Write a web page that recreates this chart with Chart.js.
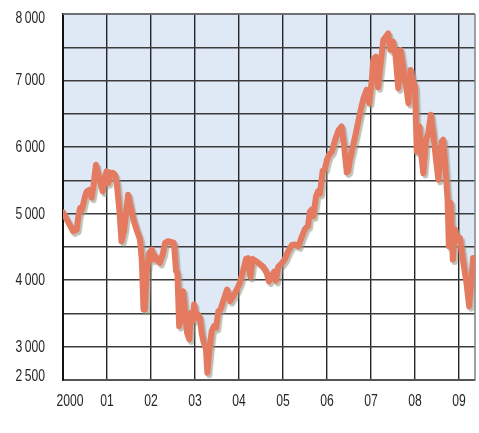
<!DOCTYPE html>
<html>
<head>
<meta charset="utf-8">
<style>
  html, body { margin: 0; padding: 0; background: #ffffff; }
  #wrap { width: 479px; height: 433px; }
</style>
<script src="https://cdn.jsdelivr.net/npm/chart.js@4.4.1/dist/chart.umd.min.js"></script>
</head>
<body>
<div id="wrap"><canvas id="chart" width="479" height="433"></canvas></div>
<script>
// Index level, 2000 to spring 2009 (time in decimal years)
const years = [
  2000.00, 2000.23, 2000.31, 2000.35, 2000.39, 2000.43, 2000.50, 2000.54, 2000.61, 2000.65,
  2000.69, 2000.75, 2000.83, 2000.90, 2000.95, 2000.99, 2001.03, 2001.07, 2001.11, 2001.14,
  2001.18, 2001.22, 2001.28, 2001.33, 2001.39, 2001.45, 2001.48, 2001.54, 2001.60, 2001.67,
  2001.75, 2001.79, 2001.83, 2001.86, 2001.90, 2001.96, 2002.02, 2002.05, 2002.09, 2002.15,
  2002.20, 2002.27, 2002.32, 2002.39, 2002.47, 2002.52, 2002.57, 2002.60, 2002.64, 2002.70,
  2002.73, 2002.77, 2002.82, 2002.87, 2002.91, 2002.95, 2002.98, 2003.02, 2003.07, 2003.11,
  2003.15, 2003.20, 2003.25, 2003.28, 2003.33, 2003.38, 2003.43, 2003.48, 2003.53, 2003.58,
  2003.64, 2003.73, 2003.80, 2003.87, 2003.95, 2004.02, 2004.10, 2004.16, 2004.20, 2004.26,
  2004.31, 2004.40, 2004.48, 2004.55, 2004.63, 2004.68, 2004.74, 2004.80, 2004.84, 2004.89,
  2004.97, 2005.05, 2005.12, 2005.20, 2005.27, 2005.35, 2005.42, 2005.50, 2005.57, 2005.61,
  2005.65, 2005.69, 2005.75, 2005.80, 2005.84, 2005.90, 2005.95, 2006.00, 2006.05, 2006.11,
  2006.18, 2006.26, 2006.33, 2006.39, 2006.45, 2006.48, 2006.52, 2006.64, 2006.75, 2006.83,
  2006.90, 2006.96, 2007.02, 2007.05, 2007.11, 2007.16, 2007.22, 2007.28, 2007.34, 2007.39,
  2007.44, 2007.50, 2007.56, 2007.62, 2007.67, 2007.73, 2007.77, 2007.81, 2007.85, 2007.90,
  2007.95, 2008.00, 2008.04, 2008.10, 2008.14, 2008.19, 2008.25, 2008.30, 2008.36, 2008.42,
  2008.48, 2008.53, 2008.61, 2008.64, 2008.68, 2008.74, 2008.77, 2008.81, 2008.86, 2008.91,
  2008.96, 2009.02, 2009.10, 2009.17, 2009.23, 2009.27, 2009.32, 2009.35
];
const values = [
  5020, 4735, 4760, 4960, 5085, 5060, 5260, 5335, 5360, 5240,
  5410, 5735, 5510, 5335, 5535, 5635, 5460, 5620, 5585, 5610,
  5585, 5460, 5060, 4585, 4760, 5110, 5285, 5085, 4910, 4760,
  4610, 4310, 3560, 3560, 4110, 4410, 4460, 4310, 4370, 4300,
  4260, 4400, 4560, 4585, 4570, 4560, 4135, 4110, 3310, 3460,
  3835, 3560, 3210, 3110, 3510, 3385, 3635, 3435, 3485, 3435,
  3210, 3060, 2960, 2610, 2960, 3235, 3310, 3285, 3535, 3560,
  3685, 3860, 3685, 3760, 3860, 3960, 4160, 4320, 4330, 4050,
  4320, 4280, 4240, 4200, 4110, 3980, 4050, 4130, 3990, 4200,
  4250, 4330, 4440, 4530, 4535, 4510, 4640, 4770, 4820, 5030,
  5060, 4960, 5260, 5340, 5300, 5640, 5670, 5810, 5890, 5930,
  6100, 6250, 6310, 6000, 5620, 5640, 5810, 6160, 6510, 6735,
  6860, 6660, 7010, 7310, 7360, 6900, 7260, 7610, 7660, 7710,
  7460, 7585, 7360, 6885, 7460, 7200, 7000, 6860, 6660, 7160,
  7000, 6900, 5935, 6310, 5900, 5610, 6110, 6200, 6485, 6160,
  5800, 5510, 6085, 6110, 5800, 5210, 4510, 5160, 4310, 4760,
  4610, 4635, 4260, 3960, 3610, 3900, 4335, 4335
];

// Axis ticks and their printed labels
const yTickValues = [2500, 3000, 4000, 5000, 6000, 7000, 8000];
const yTickLabels = ['2\u2009500', '3\u2009000', '4\u2009000', '5\u2009000', '6\u2009000', '7\u2009000', '8\u2009000'];
const xTickValues = [2000, 2001, 2002, 2003, 2004, 2005, 2006, 2007, 2008, 2009];
const xTickLabels = ['2000', '01', '02', '03', '04', '05', '06', '07', '08', '09'];

const points = years.map((x, i) => ({ x: x, y: values[i] }));

const LABEL_FONT = '16px "Liberation Sans", Arial, sans-serif';
const LABEL_COLOR = '#262626';
const LABEL_SQUEEZE = 0.76;   // condensed look for the axis figures

// Soft grey drop shadow under the index line
const lineShadow = {
  id: 'lineShadow',
  beforeDatasetDraw(chart) {
    const ctx = chart.ctx;
    ctx.save();
    ctx.shadowColor = 'rgba(150,150,135,0.6)';
    ctx.shadowOffsetX = 2;
    ctx.shadowOffsetY = 2.5;
    ctx.shadowBlur = 1;
  },
  afterDatasetDraw(chart) {
    chart.ctx.restore();
  }
};

// Top and right edges of the plot frame
const plotFrame = {
  id: 'plotFrame',
  beforeDatasetsDraw(chart) {
    const { ctx, chartArea: a } = chart;
    ctx.save();
    ctx.strokeStyle = '#707070';
    ctx.lineWidth = 2;
    ctx.beginPath();
    ctx.moveTo(a.left, a.top);
    ctx.lineTo(a.right, a.top);
    ctx.stroke();
    ctx.lineWidth = 1.5;
    ctx.strokeStyle = '#808080';
    ctx.beginPath();
    ctx.moveTo(a.right, a.top);
    ctx.lineTo(a.right, a.bottom);
    ctx.stroke();
    ctx.restore();
  }
};

function drawSqueezed(ctx, text, x, y) {
  ctx.save();
  ctx.translate(x, y);
  ctx.scale(LABEL_SQUEEZE, 1);
  ctx.fillText(text, 0, 0);
  ctx.restore();
}

// Tick labels, placed through the chart's own scales
const tickLabels = {
  id: 'tickLabels',
  afterDraw(chart) {
    const { ctx, chartArea: a } = chart;
    const xs = chart.scales.x, ys = chart.scales.y;
    ctx.save();
    ctx.font = LABEL_FONT;
    ctx.fillStyle = LABEL_COLOR;
    ctx.textBaseline = 'middle';
    ctx.textAlign = 'right';
    yTickValues.forEach((v, i) => {
      let py = ys.getPixelForValue(v);
      py = Math.min(Math.max(py, a.top + 4.5), a.bottom - 4);
      drawSqueezed(ctx, yTickLabels[i], a.left - 18, py + 0.5);
    });
    ctx.textAlign = 'center';
    xTickValues.forEach((v, i) => {
      let px = xs.getPixelForValue(v);
      if (i === 0) px += 7;
      drawSqueezed(ctx, xTickLabels[i], px, a.bottom + 22);
    });
    ctx.restore();
  }
};

new Chart(document.getElementById('chart'), {
  type: 'line',
  data: {
    datasets: [{
      data: points,
      borderColor: '#e47b60',
      borderWidth: 6,
      borderJoinStyle: 'round',
      borderCapStyle: 'round',
      pointRadius: 0,
      tension: 0,
      fill: 'end',
      backgroundColor: '#dfe8f5'
    }]
  },
  options: {
    responsive: false,
    animation: false,
    devicePixelRatio: 1,
    layout: { padding: { left: 63, right: 4, top: 14, bottom: 53 } },
    plugins: {
      legend: { display: false },
      tooltip: { enabled: false },
      filler: { drawTime: 'beforeDraw' }
    },
    scales: {
      x: {
        type: 'linear',
        min: 2000,
        max: 2009.364,
        afterBuildTicks(scale) {
          scale.ticks = xTickValues.map(v => ({ value: v }));
        },
        ticks: { display: false },
        grid: { color: '#262626', lineWidth: 1.4, drawTicks: false },
        border: { display: true, color: '#555555', width: 2 }
      },
      y: {
        type: 'linear',
        min: 2500,
        max: 8000,
        ticks: { display: false, stepSize: 500 },
        grid: { color: '#3c3c3c', lineWidth: 1.4, drawTicks: false },
        border: { display: true, color: '#111111', width: 2 }
      }
    }
  },
  plugins: [lineShadow, plotFrame, tickLabels]
});
</script>
</body>
</html>
